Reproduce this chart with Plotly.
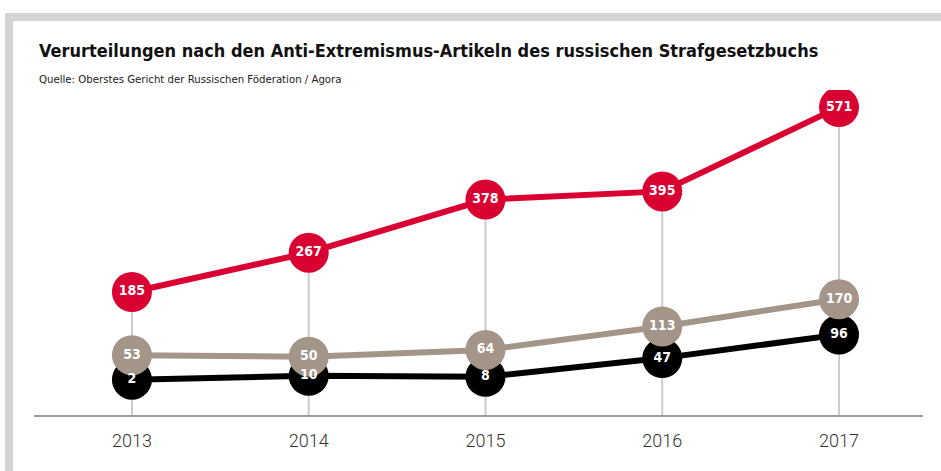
import plotly.graph_objects as go

years = [2013, 2014, 2015, 2016, 2017]
red_vals = [185, 267, 378, 395, 571]
gray_vals = [53, 50, 64, 113, 170]
black_vals = [2, 10, 8, 47, 96]

title = "Verurteilungen nach den Anti-Extremismus-Artikeln des russischen Strafgesetzbuchs"
subtitle = "Quelle: Oberstes Gericht der Russischen Föderation / Agora"

RED = "#d90032"
GRAY = "#a39588"
BLACK = "#000000"
NARROW = "DejaVu Sans Condensed, Liberation Sans Narrow, sans-serif"

Y_MIN, Y_MAX = -71.8, 606.7
X_MIN, X_MAX = 2012.446, 2017.475

fig = go.Figure()

# vertical guide lines from axis up to the top value of each year
gx, gy = [], []
for yr, top in zip(years, [max(a, b, c) for a, b, c in zip(red_vals, gray_vals, black_vals)]):
    gx += [yr, yr, None]
    gy += [Y_MIN, top, None]
fig.add_trace(go.Scatter(x=gx, y=gy, mode="lines", line=dict(color="#cccccc", width=2),
                         hoverinfo="skip", showlegend=False))

for vals, col in [(black_vals, BLACK), (gray_vals, GRAY), (red_vals, RED)]:
    fig.add_trace(go.Scatter(x=years, y=vals, mode="lines+markers",
                             line=dict(color=col, width=6),
                             marker=dict(size=40, color=col),
                             showlegend=False))

for vals in [black_vals, gray_vals, red_vals]:
    fig.add_trace(go.Scatter(x=years, y=vals, mode="text", text=[str(v) for v in vals],
                             textposition="middle center",
                             textfont=dict(family=NARROW, size=14, color="white", weight="bold"),
                             showlegend=False, hoverinfo="skip"))

H_PLOT = 471 - 90 - 56
W_PLOT = 941 - 34 - 18

def py(px):
    return (415 - px) / H_PLOT

def pxx(px):
    return (px - 34) / W_PLOT

fig.add_annotation(text="<b>" + title + "</b>", xref="paper", yref="paper",
                   x=pxx(37), y=py(51), xanchor="left", yanchor="middle", showarrow=False,
                   font=dict(family=NARROW, size=18, color="#111111"))
fig.add_annotation(text=subtitle, xref="paper", yref="paper",
                   x=pxx(37), y=py(79), xanchor="left", yanchor="middle", showarrow=False,
                   font=dict(family=NARROW, size=11.3, color="#222222"))

# gray frame (top and left bars)
fig.add_shape(type="rect", xref="paper", yref="paper", x0=pxx(5), x1=pxx(941), y0=py(21), y1=py(13),
              fillcolor="#d4d4d6", line=dict(width=0), layer="below")
fig.add_shape(type="rect", xref="paper", yref="paper", x0=pxx(5), x1=pxx(13), y0=py(471), y1=py(13),
              fillcolor="#d4d4d6", line=dict(width=0), layer="below")

fig.update_layout(
    width=941, height=471,
    margin=dict(l=34, r=18, t=90, b=56),
    paper_bgcolor="white", plot_bgcolor="white",
    xaxis=dict(range=[X_MIN, X_MAX], tickvals=years, ticktext=[str(y) for y in years],
               showgrid=False, zeroline=False, showline=True, linecolor="#9d9d9d", linewidth=2,
               ticks="outside", ticklen=8, tickcolor="rgba(0,0,0,0)",
               tickfont=dict(family="Roboto, Liberation Sans, sans-serif", size=18, color="#333333", weight=300)),
    yaxis=dict(range=[Y_MIN, Y_MAX], visible=False),
)

fig.write_html("out.html")
